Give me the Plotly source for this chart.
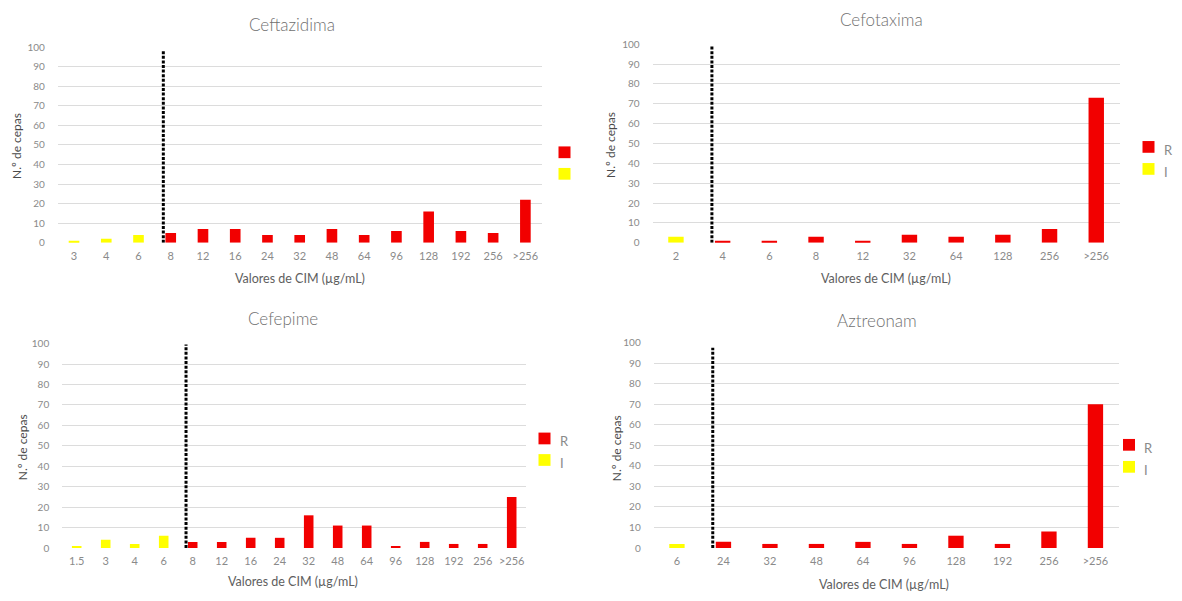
import plotly.graph_objects as go

# MIC distributions (number of strains per MIC value), R = resistant, I = intermediate
ceftazidima_cat = ["3", "4", "6", "8", "12", "16", "24", "32", "48", "64", "96", "128", "192", "256", ">256"]
ceftazidima_R = [None, None, None, 5, 7, 7, 4, 4, 7, 4, 6, 16, 6, 5, 22]
ceftazidima_I = [1, 2, 4, None, None, None, None, None, None, None, None, None, None, None, None]

cefotaxima_cat = ["2", "4", "6", "8", "12", "32", "64", "128", "256", ">256"]
cefotaxima_R = [None, 1, 1, 3, 1, 4, 3, 4, 7, 73]
cefotaxima_I = [3, None, None, None, None, None, None, None, None, None]

cefepime_cat = ["1.5", "3", "4", "6", "8", "12", "16", "24", "32", "48", "64", "96", "128", "192", "256", ">256"]
cefepime_R = [None, None, None, None, 3, 3, 5, 5, 16, 11, 11, 1, 3, 2, 2, 25]
cefepime_I = [1, 4, 2, 6, None, None, None, None, None, None, None, None, None, None, None, None]

aztreonam_cat = ["6", "24", "32", "48", "64", "96", "128", "192", "256", ">256"]
aztreonam_R = [None, 3, 2, 2, 3, 2, 6, 2, 8, 70]
aztreonam_I = [2, None, None, None, None, None, None, None, None, None]

y_ticks = list(range(0, 101, 10))

W, H = 1182, 601
RED = "#f20000"
YELLOW = "#ffff00"
GREY_TXT = "#5e5e5e"
GREY_TICK = "#8a8a8a"
FONT = "Lato, 'Liberation Sans', sans-serif"

# panel layout in pixels: plot-area left/right, y of value 0 and value 100,
# title centre, axis-title centres, breakpoint line top, legend key position
panels = [
    dict(name="Ceftazidima", cat=ceftazidima_cat, R=ceftazidima_R, I=ceftazidima_I,
         x0=57.9, x1=541.5, yb=241, yt=41, title=(292, 18), xt=(300, 277), yt_lab=(17, 142),
         cut_top=98, leg=(564.5, 148.5, 170.5), leg_text=False),
    dict(name="Cefotaxima", cat=cefotaxima_cat, R=cefotaxima_R, I=cefotaxima_I,
         x0=652.6, x1=1119.6, yb=241, yt=38, title=(881, 13), xt=(886, 278), yt_lab=(611, 141),
         cut_top=99.5, leg=(1148.5, 143, 165.5), leg_text=True),
    dict(name="Cefepime", cat=cefepime_cat, R=cefepime_R, I=cefepime_I,
         x0=62.2, x1=526.2, yb=553, yt=344, title=(283, 318), xt=(293, 587), yt_lab=(22, 450),
         cut_top=99.5, leg=(544.5, 441, 463), leg_text=True),
    dict(name="Aztreonam", cat=aztreonam_cat, R=aztreonam_R, I=aztreonam_I,
         x0=653.7, x1=1118.7, yb=553, yt=343, title=(877, 320), xt=(884, 590), yt_lab=(616, 451),
         cut_top=97.5, leg=(1129, 447.5, 470), leg_text=True),
]


def px(x):
    return x / W


def py(y):
    return 1 - y / H


def label(text, x, y, size, color, weight="normal", **kw):
    return dict(text=text, x=px(x), y=py(y), xref="paper", yref="paper", showarrow=False,
                xanchor=kw.pop("xanchor", "center"), yanchor="middle",
                font=dict(size=size, color=color, family=FONT, weight=weight), **kw)


fig = go.Figure()
layout = dict(
    width=W, height=H, margin=dict(l=0, r=0, t=0, b=0),
    paper_bgcolor="white", plot_bgcolor="white",
    barmode="overlay", showlegend=False,
    font=dict(family=FONT, color=GREY_TXT),
)
shapes = []
annotations = []

for i, p in enumerate(panels, start=1):
    xa = "x" if i == 1 else f"x{i}"
    ya = "y" if i == 1 else f"y{i}"
    fig.add_trace(go.Bar(x=p["cat"], y=p["R"], name="R", marker=dict(color=RED, line=dict(width=0)),
                         width=0.33, xaxis=xa, yaxis=ya))
    fig.add_trace(go.Bar(x=p["cat"], y=p["I"], name="I", marker=dict(color=YELLOW, line=dict(width=0)),
                         width=0.33, xaxis=xa, yaxis=ya))

    layout["xaxis" if i == 1 else f"xaxis{i}"] = dict(
        domain=[px(p["x0"]), px(p["x1"])], anchor=ya, type="category",
        categoryorder="array", categoryarray=p["cat"],
        range=[-0.5, len(p["cat"]) - 0.5],
        showgrid=False, zeroline=False, showline=False, ticks="",
        tickfont=dict(size=11, color=GREY_TICK, family=FONT), ticklabelstandoff=5,
        fixedrange=True,
    )
    layout["yaxis" if i == 1 else f"yaxis{i}"] = dict(
        domain=[py(p["yb"]), py(p["yt"])], anchor=xa, range=[0, 100],
        tickvals=y_ticks, showgrid=True, gridcolor="#dcdcdc", gridwidth=1,
        zeroline=False, showline=False, ticks="",
        tickfont=dict(size=10, color=GREY_TICK, family=FONT), ticklabelstandoff=12,
        fixedrange=True,
    )

    # susceptibility breakpoint: dotted line just left of the first resistant category
    first_r = next(k for k, v in enumerate(p["R"]) if v is not None)
    shapes.append(dict(type="line", xref=xa, yref=ya, x0=first_r - 0.23, x1=first_r - 0.23,
                       y0=0, y1=p["cut_top"], line=dict(color="black", width=3, dash="3px,1.6px")))

    # chart title and axis titles
    annotations.append(label(p["name"], *p["title"], 17, "#707070", weight=300))
    annotations.append(label("Valores de CIM (µg/mL)", *p["xt"], 12.5, GREY_TXT))
    annotations.append(label("N.º de cepas", *p["yt_lab"], 12, "#4a4a4a", textangle=-90))

    # legend keys
    lx, ly_r, ly_i = p["leg"]
    for col, yy, lab in ((RED, ly_r, "R"), (YELLOW, ly_i, "I")):
        shapes.append(dict(type="rect", xref="paper", yref="paper",
                           x0=px(lx - 6), x1=px(lx + 6), y0=py(yy + 6), y1=py(yy - 6),
                           fillcolor=col, line=dict(width=0)))
        if p["leg_text"]:
            annotations.append(label(lab, lx + 13, yy + 3, 13, GREY_TICK, xanchor="left"))

layout["shapes"] = shapes
layout["annotations"] = annotations
fig.update_layout(**layout)
fig.write_html("out.html")
